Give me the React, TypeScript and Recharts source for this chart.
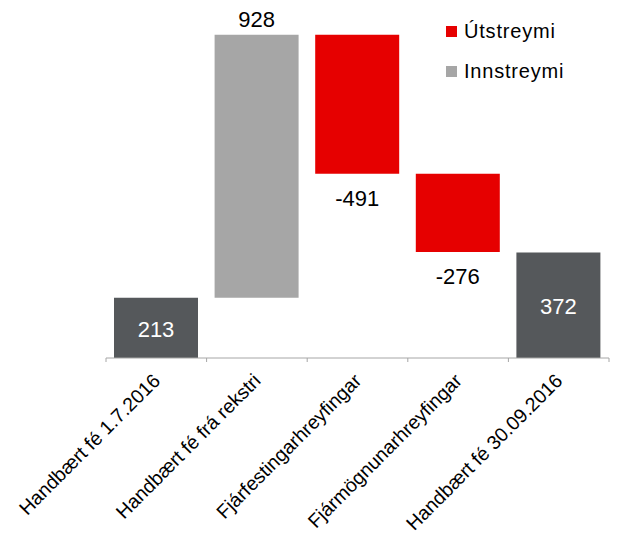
import { BarChart, Bar, XAxis, YAxis, Cell, LabelList } from 'recharts'

const categories = [
  'Handbært fé 1.7.2016',
  'Handbært fé frá rekstri',
  'Fjárfestingarhreyfingar',
  'Fjármögnunarhreyfingar',
  'Handbært fé 30.09.2016',
]
const amounts = [213, 928, -491, -276, 372]
const kinds = ['total', 'in', 'out', 'out', 'total']

const COLORS: Record<string, string> = {
  total: '#55585B',
  in: '#A6A6A6',
  out: '#E60000',
}
const FONT = '"Liberation Sans", Arial, sans-serif'

// waterfall: totals start at 0, flows float on the running sum
let running = 0
const data = categories.map((name, i) => {
  const v = amounts[i]
  let range: [number, number]
  if (kinds[i] === 'total') {
    range = [0, v]
    running = v
  } else {
    const next = running + v
    range = [Math.min(running, next), Math.max(running, next)]
    running = next
  }
  return { name, range, amount: v, kind: kinds[i] }
})

const legend = [
  { label: 'Útstreymi', color: COLORS.out },
  { label: 'Innstreymi', color: COLORS.in },
]

function AxisTick(props: any) {
  const { x, y, payload, index } = props
  const half = payload?.offset || 50.3
  return (
    <g>
      <line x1={x - half} x2={x - half} y1={y} y2={y + 4} stroke="#A6A6A6" />
      {index === categories.length - 1 && (
        <line x1={x + half} x2={x + half} y1={y} y2={y + 4} stroke="#A6A6A6" />
      )}
      <g transform={`translate(${x + 5},${y + 24})`}>
        <text transform="rotate(-45)" textAnchor="end" fontSize={19.5} fill="#000" fontFamily={FONT}>
          {payload.value}
        </text>
      </g>
    </g>
  )
}

function BarLabel(props: any) {
  const { x, y, width, height, index } = props
  const d = data[index]
  const cx = x + width / 2
  const common = { textAnchor: 'middle' as const, fontSize: 22, fontFamily: FONT }
  if (d.kind === 'total') {
    return <text x={cx} y={y + height / 2 + 9} fill="#fff" {...common}>{d.amount}</text>
  }
  if (d.kind === 'in') {
    return <text x={cx} y={y - 8} fill="#000" {...common}>{d.amount}</text>
  }
  return <text x={cx} y={y + height + 32} fill="#000" {...common}>{d.amount}</text>
}

export default function App() {
  return (
    <div style={{ position: 'absolute', left: 0, top: 0, width: 617, height: 540, background: '#fff' }}>
      <BarChart
        width={617}
        height={540}
        data={data}
        margin={{ top: 18, right: 8, left: 106, bottom: 0 }}
      >
        <XAxis
          dataKey="name"
          height={182}
          interval={0}
          tickSize={0}
          tickMargin={0}
          tickLine={false}
          axisLine={{ stroke: '#A6A6A6' }}
          tick={<AxisTick />}
        />
        <YAxis hide domain={[0, 1200]} />
        <Bar dataKey="range" barSize={84} isAnimationActive={false}>
          {data.map((d, i) => (
            <Cell key={i} fill={COLORS[d.kind]} />
          ))}
          <LabelList dataKey="amount" content={<BarLabel />} />
        </Bar>
      </BarChart>
      <div style={{ position: 'absolute', left: 446, top: 11, fontFamily: FONT }}>
        {legend.map((l) => (
          <div key={l.label} style={{ display: 'flex', alignItems: 'center', height: 40 }}>
            <span style={{ width: 11, height: 11, background: l.color, marginRight: 7, display: 'inline-block' }} />
            <span style={{ fontSize: 20, letterSpacing: 0.8, color: '#000' }}>{l.label}</span>
          </div>
        ))}
      </div>
    </div>
  )
}
